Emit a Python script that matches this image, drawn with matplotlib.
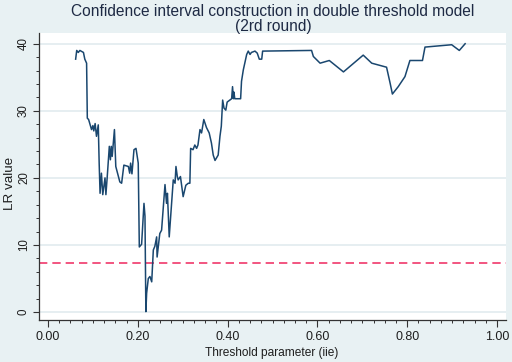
import matplotlib
matplotlib.use("Agg")
import matplotlib.pyplot as plt
from matplotlib.ticker import MultipleLocator

# Threshold parameter values and LR statistic
threshold = [0.0616, 0.064, 0.0675, 0.071, 0.079, 0.082, 0.086, 0.0876, 0.0905, 0.097,
             0.100, 0.102, 0.105, 0.108, 0.112, 0.114, 0.116, 0.119, 0.122, 0.127,
             0.129, 0.132, 0.1366, 0.139, 0.141, 0.143, 0.148, 0.151, 0.160, 0.164,
             0.169, 0.179, 0.182, 0.184, 0.187, 0.1915, 0.196, 0.201, 0.2034, 0.2085,
             0.2138, 0.216, 0.218, 0.2197, 0.2234, 0.227, 0.231, 0.2346, 0.238, 0.242,
             0.243, 0.249, 0.253, 0.2606, 0.264, 0.266, 0.270, 0.279, 0.283, 0.285,
             0.288, 0.290, 0.295, 0.301, 0.307, 0.3125, 0.316, 0.3177, 0.323, 0.327,
             0.331, 0.334, 0.3385, 0.342, 0.347, 0.353, 0.359, 0.364, 0.368, 0.372,
             0.379, 0.383, 0.386, 0.389, 0.392, 0.396, 0.399, 0.409, 0.411, 0.413,
             0.414, 0.416, 0.429, 0.431, 0.435, 0.4425, 0.446, 0.450, 0.453, 0.461,
             0.466, 0.4706, 0.476, 0.478, 0.587, 0.591, 0.606, 0.6265, 0.658, 0.702,
             0.721, 0.754, 0.762, 0.767, 0.780, 0.795, 0.806, 0.834, 0.8396, 0.899,
             0.916, 0.929]
lr_value = [37.7, 39.0, 38.7, 39.0, 38.7, 37.7, 37.1, 28.9, 28.7, 27.2,
            27.8, 27.0, 28.1, 26.2, 27.9, 22.2, 17.7, 20.7, 17.5, 20.0,
            17.5, 20.2, 24.7, 22.7, 24.7, 23.2, 27.2, 21.7, 19.4, 19.2,
            21.9, 21.7, 20.7, 22.2, 20.6, 24.2, 24.4, 22.2, 9.7, 10.1,
            16.2, 14.3, 0.05, 2.8, 5.0, 5.3, 4.5, 9.25, 9.8, 11.2,
            8.2, 11.7, 12.2, 19.0, 16.2, 17.7, 11.2, 19.7, 19.2, 21.7,
            20.2, 19.7, 20.2, 17.2, 18.9, 19.2, 19.2, 24.4, 24.2, 24.9,
            24.4, 24.9, 27.2, 26.7, 28.7, 27.5, 26.7, 25.2, 23.4, 22.6,
            23.4, 26.2, 27.7, 31.6, 30.4, 30.1, 31.3, 31.8, 33.6, 31.8,
            32.8, 31.8, 31.8, 34.4, 36.1, 38.4, 38.9, 38.4, 38.7, 38.9,
            38.6, 37.7, 37.7, 38.9, 39.0, 38.1, 37.1, 37.5, 35.8, 38.3,
            37.1, 36.5, 34.1, 32.5, 33.6, 35.1, 37.5, 37.5, 39.5, 39.85,
            39.0, 40.0]
critical_value = 7.38

x_ticks = [0.0, 0.2, 0.4, 0.6, 0.8, 1.0]
x_tick_labels = ["0.00", "0.20", "0.40", "0.60", "0.80", "1.00"]
y_ticks = [0, 10, 20, 30, 40]

plt.rcParams['font.family'] = ['Liberation Sans', 'DejaVu Sans']

W, H = 512, 362
bg = "#E8F1F3"
fig = plt.figure(figsize=(W / 100, H / 100), dpi=100, facecolor=bg)
ax = fig.add_axes([39 / W, 1 - 320 / H, (506 - 39) / W, (320 - 33) / H])
ax.set_facecolor("white")

for y in y_ticks:
    ax.axhline(y, color="#E4EDF0", lw=1.3, zorder=0)

ax.plot(threshold, lr_value, color="#1A476F", lw=1.1, zorder=3)
ax.axhline(critical_value, color="#F0386B", lw=1.2, ls=(0, (5, 3)), zorder=2)

ax.set_xlim(-0.020, 1.020)
ax.set_ylim(-1.19, 41.6)
ax.set_xticks(x_ticks)
ax.set_xticklabels(x_tick_labels)
ax.xaxis.set_minor_locator(MultipleLocator(0.025))
ax.set_yticks(y_ticks)
ax.set_yticklabels([str(v) for v in y_ticks], rotation=90, va="center")
ax.yaxis.set_minor_locator(MultipleLocator(2))

for s in ["top", "right"]:
    ax.spines[s].set_visible(False)
for s in ["left", "bottom"]:
    ax.spines[s].set_color("#333333")
    ax.spines[s].set_linewidth(0.9)

ax.tick_params(axis="both", which="major", direction="out", length=5, width=0.8,
               colors="#333333", labelcolor="#1e1e1e")
ax.tick_params(axis="x", which="major", pad=3, labelsize=9)
ax.tick_params(axis="y", which="major", pad=2, labelsize=8.3, length=4.5)
ax.tick_params(axis="both", which="minor", direction="out", length=2.5, width=0.7,
               colors="#333333")

ax.set_xlabel("Threshold parameter (iie)", fontsize=8.6, color="#1e1e1e")
ax.xaxis.set_label_coords((272 - 39) / (506 - 39), -(353 - 320) / (320 - 33))
ax.set_ylabel("LR value", fontsize=9.6, color="#1e1e1e")
ax.yaxis.set_label_coords(-(39 - 10) / (506 - 39), (320 - 183) / (320 - 33))
ax.xaxis.label.set_va("center")
ax.yaxis.label.set_va("center")

fig.text(273 / W, 1 - 11 / H, "Confidence interval construction in double threshold model",
         ha="center", va="center", fontsize=11.2, color="#1E2A44")
fig.text(273 / W, 1 - 26 / H, "(2rd round)",
         ha="center", va="center", fontsize=11.2, color="#1E2A44")

fig.savefig("out.png", dpi=100, facecolor=bg)
